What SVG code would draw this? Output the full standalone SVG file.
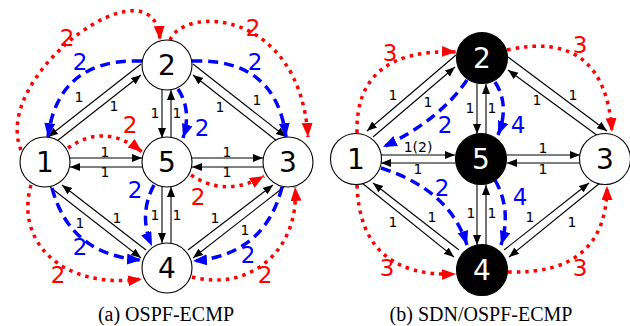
<svg xmlns="http://www.w3.org/2000/svg" width="630" height="326" viewBox="0 0 630 326">
<style>
.n{fill:#fff;stroke:#000;stroke-width:1.1}
.nb{fill:#000;stroke:#000;stroke-width:1.1}
.nt{font-family:"DejaVu Sans",sans-serif;font-size:28px;text-anchor:middle;fill:#000}
.ntw{font-family:"DejaVu Sans",sans-serif;font-size:28px;text-anchor:middle;fill:#fff}
.e{stroke:#000;stroke-width:1.1;fill:none;marker-end:url(#ak)}
.b{stroke:#0000ff;stroke-width:3.5;fill:none;stroke-dasharray:10 6;marker-end:url(#ab)}
.r{stroke:#ff0000;stroke-width:3.5;fill:none;stroke-dasharray:3.5 5;marker-end:url(#ar)}
.l{font-family:"DejaVu Sans",sans-serif;font-size:14px;text-anchor:middle;fill:#000}
.lb{font-family:"DejaVu Sans",sans-serif;font-size:23px;text-anchor:middle;fill:#0000ff}
.lr{font-family:"DejaVu Sans",sans-serif;font-size:23px;text-anchor:middle;fill:#ff0000}
.cap{font-family:"Liberation Serif",serif;font-size:20px;text-anchor:middle;fill:#000}
</style>
<defs>
<marker id="ak" markerUnits="userSpaceOnUse" markerWidth="11" markerHeight="9" refX="10" refY="4" orient="auto"><path d="M0,0 L10,4 L0,8 z" fill="#000"/></marker>
<marker id="ab" markerUnits="userSpaceOnUse" markerWidth="15" markerHeight="12" refX="14" refY="5.5" orient="auto"><path d="M0,0 L14,5.5 L0,11 z" fill="#0000ff"/></marker>
<marker id="ar" markerUnits="userSpaceOnUse" markerWidth="15" markerHeight="12" refX="14" refY="5.5" orient="auto"><path d="M0,0 L14,5.5 L0,11 z" fill="#ff0000"/></marker>
</defs>

<g id="connectors">
<!-- (a) black edges -->
<line class="e" x1="141" y1="64" x2="48" y2="137"/>
<line class="e" x1="57" y1="141" x2="141" y2="75"/>
<line class="e" x1="193" y1="64" x2="286" y2="137"/>
<line class="e" x1="277" y1="141" x2="193" y2="75"/>
<line class="e" x1="162" y1="90" x2="162" y2="138"/>
<line class="e" x1="171" y1="137" x2="171" y2="90"/>
<line class="e" x1="70" y1="158" x2="142" y2="158"/>
<line class="e" x1="142" y1="167" x2="70" y2="167"/>
<line class="e" x1="192" y1="158" x2="263" y2="158"/>
<line class="e" x1="263" y1="167" x2="192" y2="167"/>
<line class="e" x1="162" y1="187" x2="162" y2="243"/>
<line class="e" x1="171" y1="243" x2="171" y2="187"/>
<line class="e" x1="50" y1="187" x2="141" y2="258"/>
<line class="e" x1="146" y1="250" x2="62" y2="185"/>
<line class="e" x1="284" y1="187" x2="193" y2="258"/>
<line class="e" x1="188" y1="250" x2="273" y2="185"/>
<!-- (a) blue -->
<path class="b" d="M142,61 Q58,58 48,137"/>
<path class="b" d="M192,61 Q276,58 286,137"/>
<path class="b" d="M178,89 Q192,110 183,138"/>
<path class="b" d="M52,188 Q70,255 141,260"/>
<path class="b" d="M154,185 Q138,215 152,246"/>
<path class="b" d="M282,187 Q265,255 193,261"/>
<!-- (a) red -->
<path class="r" d="M21,150 C-10,75 155,-45 160,40"/>
<path class="r" d="M170,40 C185,5 300,10 308,137"/>
<path class="r" d="M68,148 Q105,122 142,152"/>
<path class="r" d="M191,175 Q225,198 264,176"/>
<path class="r" d="M31,185 C15,240 60,290 142,279"/>
<path class="r" d="M192,277 C250,292 300,250 295,187"/>
<!-- (b) black edges -->
<line class="e" x1="456" y1="55" x2="367" y2="131"/>
<line class="e" x1="373" y1="137" x2="455" y2="67"/>
<line class="e" x1="508" y1="57" x2="607" y2="131"/>
<line class="e" x1="598" y1="136" x2="508" y2="70"/>
<line class="e" x1="477" y1="84" x2="477" y2="134"/>
<line class="e" x1="486" y1="134" x2="486" y2="84"/>
<line class="e" x1="381" y1="155" x2="455" y2="155"/>
<line class="e" x1="455" y1="163" x2="381" y2="163"/>
<line class="e" x1="507" y1="155" x2="580" y2="155"/>
<line class="e" x1="580" y1="163" x2="507" y2="163"/>
<line class="e" x1="477" y1="185" x2="477" y2="245"/>
<line class="e" x1="486" y1="245" x2="486" y2="185"/>
<line class="e" x1="362" y1="183" x2="454" y2="257"/>
<line class="e" x1="459" y1="250" x2="373" y2="183"/>
<line class="e" x1="600" y1="183" x2="509" y2="257"/>
<line class="e" x1="504" y1="250" x2="589" y2="183"/>
<!-- (b) blue -->
<path class="b" d="M467,80 Q440,120 383,147"/>
<path class="b" d="M495,82 Q510,105 498,135"/>
<path class="b" d="M381,168 Q450,190 467,245"/>
<path class="b" d="M495,180 Q512,210 501,245"/>
<!-- (b) red -->
<path class="r" d="M357,133 Q355,48 456,52"/>
<path class="r" d="M507,50 Q605,28 612,132"/>
<path class="r" d="M357,185 Q360,278 456,274"/>
<path class="r" d="M508,272 Q607,275 607,186"/>
</g>

<g id="edge-labels">
<text class="l" x="79" y="102">1</text>
<text class="l" x="114" y="111">1</text>
<text class="l" x="155" y="118">1</text>
<text class="l" x="177" y="118">1</text>
<text class="l" x="220" y="112">1</text>
<text class="l" x="257" y="105">1</text>
<text class="l" x="105" y="157">1</text>
<text class="l" x="105" y="177">1</text>
<text class="l" x="227" y="157">1</text>
<text class="l" x="227" y="177">1</text>
<text class="l" x="80" y="228">1</text>
<text class="l" x="117" y="223">1</text>
<text class="l" x="155" y="220">1</text>
<text class="l" x="177" y="220">1</text>
<text class="l" x="215" y="223">1</text>
<text class="l" x="245" y="235">1</text>

<text class="lr" x="67" y="46">2</text>
<text class="lr" x="253" y="36">2</text>
<text class="lr" x="130" y="133">2</text>
<text class="lr" x="198" y="205">2</text>
<text class="lr" x="58" y="283">2</text>
<text class="lr" x="265" y="283">2</text>
<text class="lb" x="80" y="70">2</text>
<text class="lb" x="255" y="70">2</text>
<text class="lb" x="202" y="136">2</text>
<text class="lb" x="135" y="198">2</text>
<text class="lb" x="80" y="255">2</text>
<text class="lb" x="248" y="263">2</text>

<text class="l" x="393" y="100">1</text>
<text class="l" x="428" y="107">1</text>
<text class="l" x="470" y="113">1</text>
<text class="l" x="492" y="113">1</text>
<text class="l" x="537" y="105">1</text>
<text class="l" x="573" y="100">1</text>
<text class="l" x="418" y="152">1(2)</text>
<text class="l" x="418" y="174">1</text>
<text class="l" x="543" y="153">1</text>
<text class="l" x="543" y="174">1</text>
<text class="l" x="393" y="227">1</text>
<text class="l" x="432" y="222">1</text>
<text class="l" x="471" y="218">1</text>
<text class="l" x="492" y="218">1</text>
<text class="l" x="530" y="222">1</text>
<text class="l" x="572" y="227">1</text>

<text class="lr" x="390" y="61">3</text>
<text class="lr" x="580" y="53">3</text>
<text class="lr" x="387" y="276">3</text>
<text class="lr" x="580" y="276">3</text>
<text class="lb" x="445" y="133">2</text>
<text class="lb" x="518" y="133">4</text>
<text class="lb" x="442" y="196">2</text>
<text class="lb" x="520" y="205">4</text>
</g>

<g id="a-node1"><circle class="n" cx="45" cy="162" r="25"/><text class="nt" x="45" y="172">1</text></g>
<g id="a-node2"><circle class="n" cx="167" cy="65" r="25"/><text class="nt" x="167" y="75">2</text></g>
<g id="a-node5"><circle class="n" cx="167" cy="162" r="25"/><text class="nt" x="167" y="172">5</text></g>
<g id="a-node3"><circle class="n" cx="288" cy="162" r="25"/><text class="nt" x="288" y="172">3</text></g>
<g id="a-node4"><circle class="n" cx="167" cy="268" r="25"/><text class="nt" x="167" y="278">4</text></g>

<g id="b-node1"><circle class="n" cx="356" cy="159" r="25.5"/><text class="nt" x="356" y="169">1</text></g>
<g id="b-node2"><circle class="nb" cx="482" cy="58" r="25.5"/><text class="ntw" x="482" y="68">2</text></g>
<g id="b-node5"><circle class="nb" cx="481" cy="159" r="25.5"/><text class="ntw" x="481" y="169">5</text></g>
<g id="b-node3"><circle class="n" cx="605" cy="159" r="25.5"/><text class="nt" x="605" y="169">3</text></g>
<g id="b-node4"><circle class="nb" cx="482" cy="270" r="25.5"/><text class="ntw" x="482" y="280">4</text></g>

<g id="captions">
<text class="cap" x="166" y="321">(a) OSPF-ECMP</text>
<text class="cap" x="481" y="321">(b) SDN/OSPF-ECMP</text>
</g>
</svg>
